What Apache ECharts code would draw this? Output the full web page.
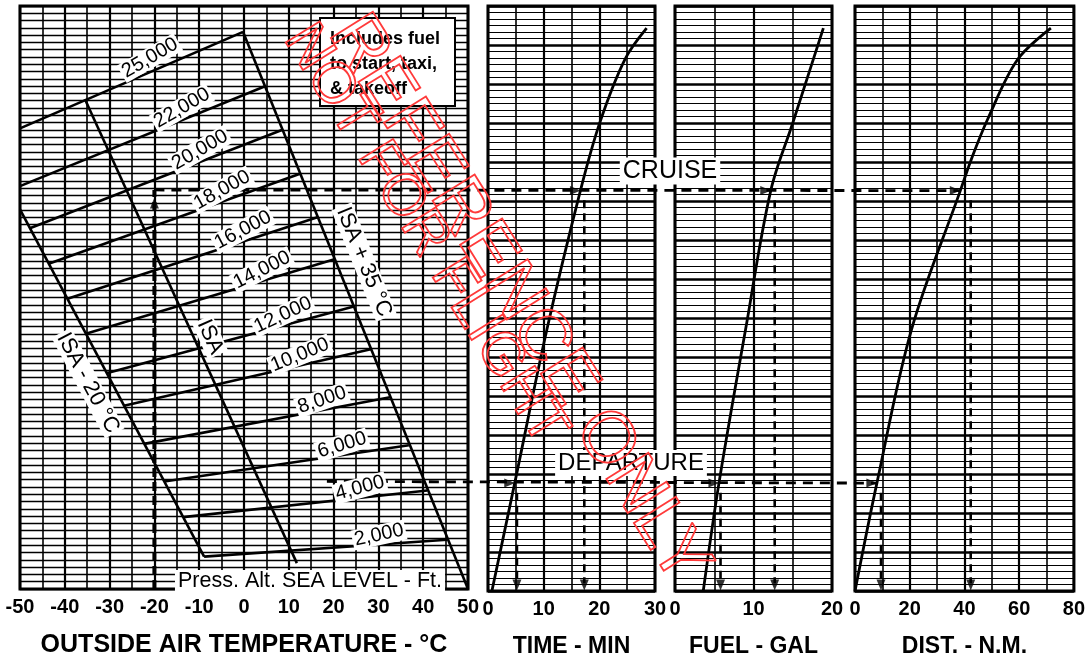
<!DOCTYPE html>
<html><head><meta charset="utf-8">
<script src="https://cdn.jsdelivr.net/npm/echarts@6/dist/echarts.min.js"></script>
<style>html,body{margin:0;padding:0;background:#fff}#c{width:1088px;height:663px}</style>
</head><body><div id="c"></div>
<script>
// ---------------- data ----------------
// pressure-altitude lines: [OAT degC, climb index u] at left and right ends
const altLabels = ['2,000','4,000','6,000','8,000','10,000','12,000','14,000','16,000','18,000','20,000','22,000','25,000'];
const altLeftT  = [-8.9,-13.6,-17.8,-22.3,-26.8,-30.7,-35.3,-39.4,-43.6,-47.8,-50,-50];
const altLeftU  = [5.0,11.1,16.6,22.4,28.3,33.3,39.4,44.8,50.2,55.7,62.2,71.1];
const altRightT = [45.3,40.9,36.8,32.6,28.3,24.5,20.2,16.4,12.5,8.6,4.7,-0.2];
const altRightU = [7.6,15.2,22.2,29.6,37.0,43.6,50.9,57.4,64.1,70.9,77.6,86.0];
// temperature reference lines
const isaMinus20 = [[-50,58.6],[-8.9,5.0]];
const isaStd     = [[-35.5,75.6],[11.8,4.0]];
const isaPlus35  = [[-0.2,86.0],[50,0]];
// right-hand panels: [value, u]
const timeCurve = [[0.7,0],[4.8,16.6],[10.6,40.3],[16.6,61.6],[20.1,72.1],[24.6,81.8],[28.5,86.6]];
const fuelCurve = [[3.6,0],[5.6,16.6],[9.0,40.3],[12.2,61.6],[15.0,72.0],[18.9,86.6]];
const distCurve = [[0,0],[8,16.6],[20.7,40.3],[38.5,61.6],[42.5,66.4],[48.4,72.5],[59.3,81.7],[71.6,86.6]];
// worked example
const cruiseU = 61.6, departU = 16.6;
const cruiseOAT = -20, departOAT = 18.5;
const cruiseCross = {time:16.6, fuel:12.2, dist:38.5};
const cruiseDrop  = {time:17.3, fuel:12.7, dist:42.3};
const departCross = {time:4.8, fuel:5.6, dist:8.0};
const departDrop  = {time:5.2, fuel:5.8, dist:9.5};
const oatRange = [-50,50], timeRange=[0,30], fuelRange=[0,20], distRange=[0,80];

// ---------------- chart ----------------
const F = '"Liberation Sans", Arial, Helvetica, sans-serif';
const chart = echarts.init(document.getElementById('c'));
const K = '#000';
function grid(left,right){return {left:left,right:right,top:6,bottom:70,show:true,borderColor:K,borderWidth:3,backgroundColor:'#fff'};}
function xAx(gi,range,intv,name,nameSize){
  return {gridIndex:gi,type:'value',min:range[0],max:range[1],interval:intv,
    axisLine:{show:false},axisTick:{show:false},
    axisLabel:{color:K,fontFamily:F,fontWeight:'bold',fontSize:20,margin:8},
    splitLine:{show:true,lineStyle:{color:K,width:2.2}},
    minorTick:{show:false,splitNumber:2},
    minorSplitLine:{show:true,lineStyle:{color:K,width:1.6}},
    name:name,nameLocation:'middle',nameGap:44,
    nameTextStyle:{color:K,fontFamily:F,fontWeight:'bold',fontSize:nameSize||23}};
}
function yAx(gi,intv,minor){
  const a={gridIndex:gi,type:'value',min:0,max:90,interval:intv,
    axisLine:{show:false},axisTick:{show:false},axisLabel:{show:false},
    splitLine:{show:true,lineStyle:{color:K,width:minor?2.6:1.3}}};
  if(minor){a.minorTick={show:false,splitNumber:minor};a.minorSplitLine={show:true,lineStyle:{color:K,width:1.1}};}
  return a;
}
const series=[];
function line(gi,data,w,dash,z){
  series.push({type:'line',xAxisIndex:gi,yAxisIndex:gi,data:data,symbol:'none',silent:true,z:z||3,
    lineStyle:{color:K,width:w,type:dash||'solid'},animation:false});
}
for(let i=0;i<altLabels.length;i++){
  line(0,[[altLeftT[i],altLeftU[i]],[altRightT[i],altRightU[i]]],2.6);
}
line(0,isaMinus20,2.6); line(0,isaStd,2.6); line(0,isaPlus35,2.6);
function curve(gi,d){series.push({type:'line',xAxisIndex:gi,yAxisIndex:gi,data:d,symbol:'none',smooth:0.35,silent:true,z:4,lineStyle:{color:K,width:2.8},animation:false});}
curve(1,timeCurve); curve(2,fuelCurve); curve(3,distCurve);
line(0,[[cruiseOAT,0],[cruiseOAT,cruiseU]],4,[9,5],5);
const keys=['time','fuel','dist'];
keys.forEach((k,j)=>{
  line(j+1,[[cruiseDrop[k],cruiseU-1.5],[cruiseDrop[k],1.2]],2.6,[8,5],5);
  line(j+1,[[departDrop[k],departU-1.5],[departDrop[k],1.2]],2.6,[8,5],5);
});
function arrows(gi,pts,rot,off){series.push({type:'scatter',xAxisIndex:gi,yAxisIndex:gi,data:pts,symbol:'triangle',symbolSize:[9,11],symbolRotate:rot,symbolOffset:off,itemStyle:{color:K},silent:true,z:6,animation:false});}
keys.forEach((k,j)=>{
  arrows(j+1,[[cruiseCross[k],cruiseU],[departCross[k],departU]],-90,[-5,0]);
  arrows(j+1,[[cruiseDrop[k],0],[departDrop[k],0]],180,[0,-6]);
});
arrows(0,[[cruiseOAT,cruiseU-2]],0,[0,0]);

chart.setOption({
  animation:false,backgroundColor:'#fff',
  grid:[grid(20,620),grid(488,433),grid(675,256),grid(855,13)],
  xAxis:[xAx(0,oatRange,10,'OUTSIDE AIR TEMPERATURE - °C',25),xAx(1,timeRange,10,'TIME - MIN'),xAx(2,fuelRange,10,'FUEL - GAL'),xAx(3,distRange,20,'DIST. - N.M.')],
  yAxis:[yAx(0,1.125,0),yAx(1,6,6),yAx(2,6,6),yAx(3,6,6)],
  series:series
});

// ---------------- overlays ----------------
const g=[];
function px(gi,v){return chart.convertToPixel({gridIndex:gi},v);}
function hdash(a,b){g.push({type:'line',z:50,shape:{x1:a[0],y1:a[1],x2:b[0],y2:b[1]},style:{stroke:K,lineWidth:2.8,lineDash:[10,7]}});}
hdash(px(0,[cruiseOAT,cruiseU]),px(3,[cruiseCross.dist,cruiseU]));
hdash(px(0,[departOAT,departU]),px(3,[departCross.dist,departU]));
function txt(x,y,s,size,rotDeg,opt){
  opt=opt||{};
  g.push({type:'text',x:x,y:y,z:100,rotation:(rotDeg||0)*Math.PI/180,
    style:{text:s,fill:K,font:(opt.weight||'normal')+' '+size+'px '+F,align:opt.align||'center',verticalAlign:'middle',
      backgroundColor:opt.bg===false?null:'#fff',padding:opt.pad||[0,2]}});
}
const altLabelPos=[[379,535,12],[360,488,15],[342,445,17],[322,400,19],[300,355,22],[283,315,25],[262,270,27],[243,230,28],[222,190,29],[200,150,30],[182,108,30],[150,58,30]];
altLabels.forEach((s,i)=>txt(altLabelPos[i][0],altLabelPos[i][1],s,20,altLabelPos[i][2]));
txt(364,262,'ISA + 35 °C',22,-68);
txt(210,337,'ISA',22,-66);
txt(88,383,'ISA - 20 °C',22,-62);
txt(310,581,'Press. Alt. SEA LEVEL - Ft.',21.5,0,{pad:[0,3]});
txt(670,171,'CRUISE',25,0,{pad:[1,3]});
txt(631,463,'DEPARTURE',24,0,{pad:[1,3]});
g.push({type:'rect',z:90,shape:{x:320,y:18,width:135,height:88},style:{fill:'#fff',stroke:K,lineWidth:2}});
txt(328,39,'Includes fuel',18,0,{align:'left',bg:false,weight:'bold'});
txt(328,64,'to start, taxi,',18,0,{align:'left',bg:false,weight:'bold'});
txt(328,89,'& takeoff',18,0,{align:'left',bg:false,weight:'bold'});
function wm(x,y,s,size){g.push({type:'text',x:x,y:y,z:120,rotation:-58*Math.PI/180,style:{text:s,font:'normal '+size+'px '+F,fill:'rgba(0,0,0,0)',stroke:'#ff3a3a',lineWidth:1.8,align:'center',verticalAlign:'middle'}});}
wm(425,235,'NOT FOR FLIGHT',58);
wm(518,300,'REFERENCE ONLY',72);
chart.setOption({graphic:g});
</script></body></html>
